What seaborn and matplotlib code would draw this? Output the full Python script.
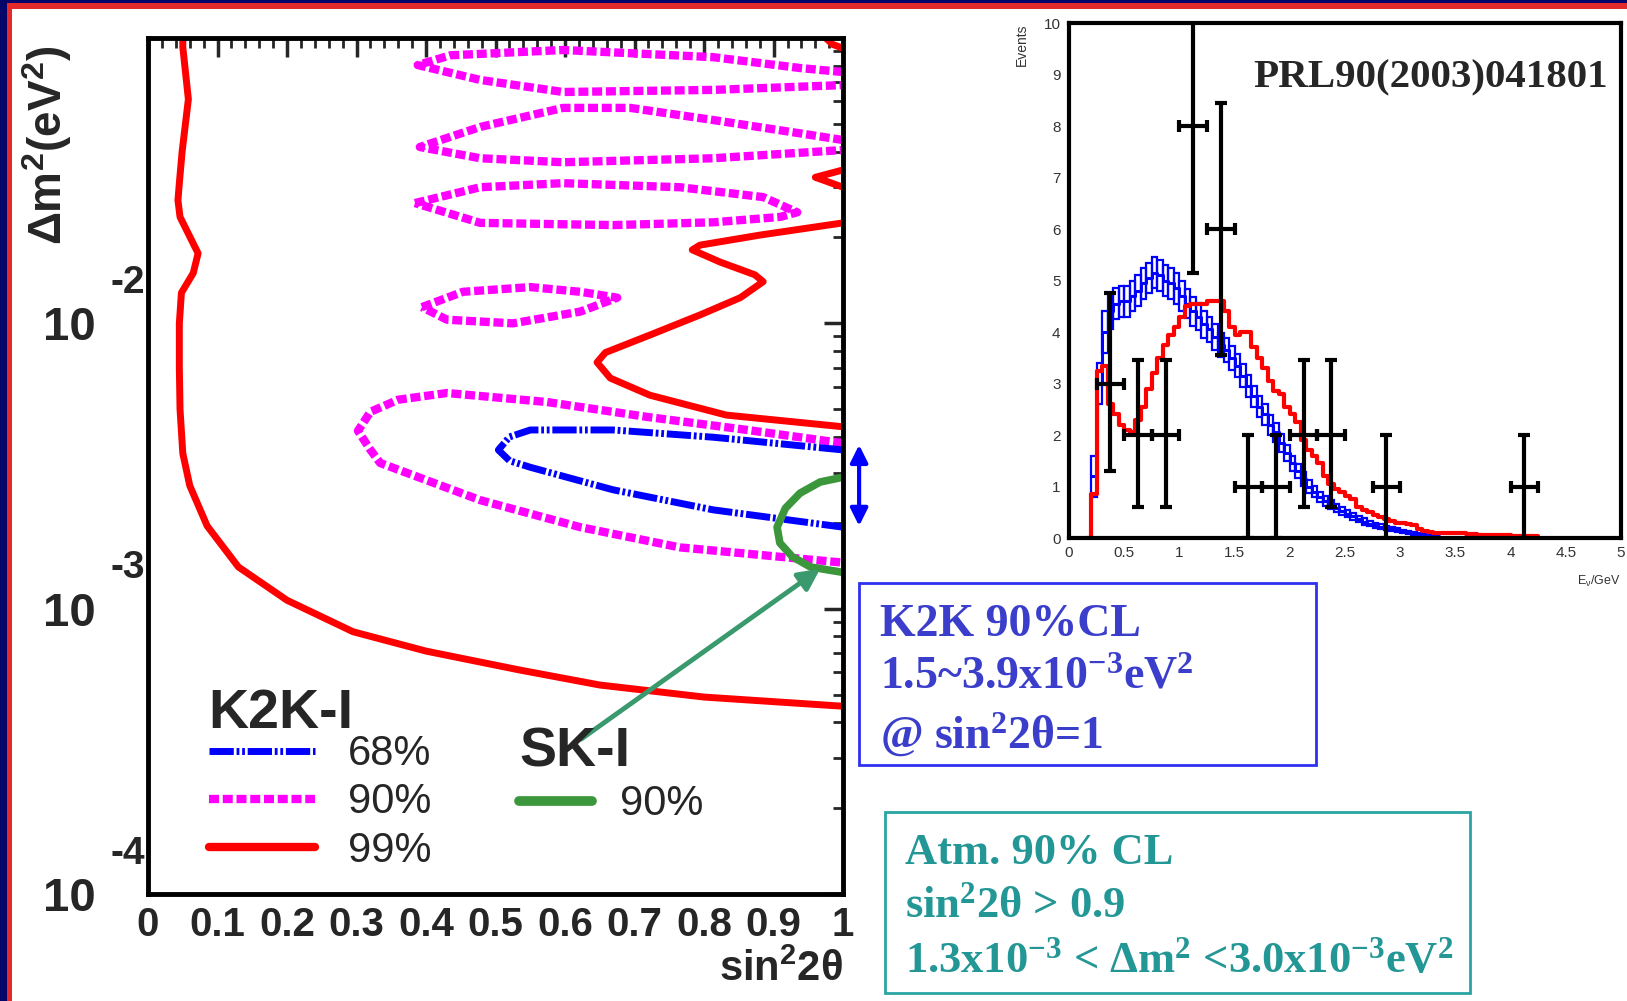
import numpy as np
import pandas as pd
import matplotlib
matplotlib.use("Agg")
import matplotlib.pyplot as plt
import seaborn as sns
from matplotlib import font_manager as fm
from matplotlib.lines import Line2D
from matplotlib.patches import Rectangle
from matplotlib.ticker import MultipleLocator, NullFormatter, LogLocator

# ---------------- data: allowed regions (sin^2 2theta, dm^2 [eV^2]) ----------------
red_outer_x = [0.050, 0.050, 0.058, 0.049, 0.045, 0.043, 0.046, 0.072, 0.065, 0.048, 0.045, 0.045,
               0.046, 0.050, 0.060, 0.085, 0.13, 0.20, 0.295, 0.40, 0.534, 0.65, 0.80, 1.0]
red_outer_y = [1.0e-1, 9.3e-2, 6.1e-2, 4.0e-2, 3.1e-2, 2.7e-2, 2.36e-2, 1.76e-2, 1.5e-2, 1.28e-2, 1.0e-2, 7.0e-3,
               5.0e-3, 3.5e-3, 2.7e-3, 1.95e-3, 1.4e-3, 1.07e-3, 8.3e-4, 7.1e-4, 6.1e-4, 5.4e-4, 4.9e-4, 4.55e-4]
red_inner_x = [1.0, 0.832, 0.722, 0.665, 0.646, 0.658, 0.722, 0.794, 0.852, 0.885, 0.873, 0.823, 0.783, 0.794, 0.881, 1.0]
red_inner_y = [4.34e-3, 4.77e-3, 5.6e-3, 6.43e-3, 7.3e-3, 7.9e-3, 9.1e-3, 1.07e-2, 1.23e-2, 1.40e-2, 1.48e-2,
               1.64e-2, 1.81e-2, 1.88e-2, 2.04e-2, 2.25e-2]
red_wedge_x = [1.0, 0.96, 1.0]
red_wedge_y = [3.45e-2, 3.25e-2, 3.0e-2]
red_top_x = [0.975, 0.985, 1.0]
red_top_y = [1.0e-1, 9.5e-2, 9.2e-2]

mag_a_x = [1.0, 0.938, 0.813, 0.597, 0.435, 0.388, 0.478, 0.597, 0.813, 1.0]
mag_a_y = [7.6e-2, 7.85e-2, 8.57e-2, 9.08e-2, 8.7e-2, 8.04e-2, 7.13e-2, 6.47e-2, 6.58e-2, 6.84e-2]
mag_b_x = [1.0, 0.934, 0.813, 0.694, 0.597, 0.478, 0.391, 0.478, 0.597, 0.813, 1.0]
mag_b_y = [4.39e-2, 4.65e-2, 5.16e-2, 5.69e-2, 5.69e-2, 4.88e-2, 4.15e-2, 3.79e-2, 3.67e-2, 3.79e-2, 4.05e-2]
mag_c_x = [0.384, 0.478, 0.597, 0.765, 0.885, 0.934, 0.909, 0.813, 0.669, 0.478, 0.384]
mag_c_y = [2.64e-2, 3.0e-2, 3.1e-2, 3.0e-2, 2.77e-2, 2.45e-2, 2.36e-2, 2.26e-2, 2.21e-2, 2.25e-2, 2.64e-2]
mag_d_x = [0.394, 0.453, 0.550, 0.622, 0.675, 0.622, 0.525, 0.430, 0.394]
mag_d_y = [1.14e-2, 1.29e-2, 1.34e-2, 1.29e-2, 1.23e-2, 1.10e-2, 1.0e-2, 1.03e-2, 1.14e-2]
mag_e_x = [1.0, 0.862, 0.718, 0.574, 0.43, 0.36, 0.32, 0.302, 0.32, 0.334, 0.478, 0.622, 0.765, 0.909, 1.0]
mag_e_y = [3.8e-3, 4.23e-3, 4.7e-3, 5.3e-3, 5.7e-3, 5.4e-3, 4.9e-3, 4.2e-3, 3.6e-3, 3.24e-3, 2.4e-3,
           1.93e-3, 1.64e-3, 1.52e-3, 1.45e-3]

blue_x = [1.0, 0.813, 0.669, 0.550, 0.52, 0.504, 0.52, 0.550, 0.669, 0.813, 1.0]
blue_y = [3.6e-3, 3.99e-3, 4.23e-3, 4.23e-3, 4.0e-3, 3.6e-3, 3.3e-3, 3.13e-3, 2.61e-3, 2.22e-3, 1.93e-3]

sk_x = [1.0, 0.967, 0.938, 0.917, 0.905, 0.909, 0.927, 0.953, 1.0]
sk_y = [2.89e-3, 2.78e-3, 2.54e-3, 2.25e-3, 1.93e-3, 1.70e-3, 1.52e-3, 1.40e-3, 1.34e-3]

sk_arrow_from = (0.623, 3.49e-4)
sk_arrow_to = (0.967, 1.38e-3)
k2k_range = (3.75e-3, 1.95e-3)

x_ticks = [0, 0.1, 0.2, 0.3, 0.4, 0.5, 0.6, 0.7, 0.8, 0.9, 1.0]
x_ticklabels = ["0", "0.1", "0.2", "0.3", "0.4", "0.5", "0.6", "0.7", "0.8", "0.9", "1"]
y_ticks = [1e-4, 1e-3, 1e-2]
y_exponents = ["-4", "-3", "-2"]

# ---------------- data: energy spectrum ----------------
blue_vals = [1.2, 3.0, 4.0, 4.4, 4.55, 4.6, 4.6, 4.7, 4.8, 4.95, 5.05, 5.15, 5.1, 5.0, 4.95, 4.85,
             4.7, 4.55, 4.4, 4.3, 4.15, 4.05, 3.9, 3.75, 3.65, 3.5, 3.35, 3.15, 2.95, 2.75, 2.55, 2.4,
             2.2, 2.05, 1.85, 1.65, 1.45, 1.3, 1.15, 1.0, 0.9, 0.8, 0.72, 0.65, 0.58, 0.52, 0.47, 0.42,
             0.37, 0.32, 0.28, 0.25, 0.22, 0.19, 0.17, 0.15, 0.13, 0.11, 0.09, 0.07, 0.05, 0.04, 0.03]
blue_err = [0.4, 0.4, 0.4, 0.35, 0.3, 0.3, 0.3, 0.3, 0.3, 0.3, 0.3, 0.3, 0.3, 0.3, 0.3, 0.3,
            0.3, 0.28, 0.28, 0.27, 0.26, 0.25, 0.25, 0.24, 0.24, 0.23, 0.23, 0.22, 0.22, 0.21, 0.2, 0.2,
            0.19, 0.18, 0.17, 0.16, 0.15, 0.14, 0.13, 0.12, 0.11, 0.1, 0.09, 0.09, 0.08, 0.08, 0.07, 0.07,
            0.06, 0.06, 0.05, 0.05, 0.05, 0.04, 0.04, 0.04, 0.03, 0.03, 0.03, 0.02, 0.02, 0.02, 0.02]
red_vals = [0.0, 0.85, 3.25, 3.35, 2.6, 2.4, 2.2, 2.1, 2.05, 2.3, 2.55, 2.9, 3.2, 3.5, 3.75, 3.95, 4.1,
            4.3, 4.5, 4.55, 4.55, 4.55, 4.6, 4.6, 4.6, 4.4, 4.1, 3.95, 4.0, 4.0, 3.7, 3.5, 3.3,
            3.05, 2.85, 2.8, 2.55, 2.4, 2.25, 1.9, 1.7, 1.6, 1.45, 1.2, 1.05, 0.95, 0.9, 0.82, 0.75,
            0.6, 0.55, 0.5, 0.45, 0.4, 0.36, 0.34, 0.3, 0.29, 0.28, 0.26, 0.18, 0.14, 0.11, 0.1, 0.1,
            0.1, 0.1, 0.09, 0.09, 0.08, 0.07, 0.06, 0.06, 0.06, 0.05, 0.05, 0.05, 0.03, 0.03, 0.03, 0.03, 0.03]
bin_width = 0.05
blue_start = 0.2
red_start = 0.15

data_x = [0.375, 0.625, 0.875, 1.125, 1.375, 1.625, 1.875, 2.125, 2.375, 2.875, 4.125]
data_y = [3, 2, 2, 8, 6, 1, 1, 2, 2, 1, 1]
data_ylo = [1.7, 1.4, 1.4, 2.85, 2.45, 1.0, 1.0, 1.4, 1.4, 1.0, 1.0]
data_yhi = [1.75, 1.45, 1.45, 3.0, 2.45, 1.0, 1.0, 1.45, 1.45, 1.0, 1.0]
data_xerr = 0.125

hx_ticks = [0, 0.5, 1, 1.5, 2, 2.5, 3, 3.5, 4, 4.5, 5]
hx_ticklabels = ["0", "0.5", "1", "1.5", "2", "2.5", "3", "3.5", "4", "4.5", "5"]
hy_ticks = list(range(0, 11))

# ---------------- style ----------------
sns.set_style("white")
plt.rcParams["font.family"] = ["Liberation Sans", "DejaVu Sans"]
plt.rcParams["mathtext.default"] = "regular"
_names = {f.name for f in fm.fontManager.ttflist}
if "Liberation Sans Narrow" in _names:
    NARROW = ["Liberation Sans Narrow", "DejaVu Sans"]
    XTICK_FS, XLAB_FS = 36, 34
else:
    NARROW = ["Liberation Sans", "DejaVu Sans"]
    XTICK_FS, XLAB_FS = 29, 30
SERIF = ["Liberation Serif", "DejaVu Serif"]

RED = "#ff0000"
MAG = "#ff00ff"
BLUE = "#0000ff"
GREEN = "#3c963c"
ARROW_GREEN = "#3a9a6e"
blue_ls = (0, (3.5, 0.4, 0.4, 0.4, 0.4, 0.4))
mag_ls = (0, (1.2, 0.45))

fig = plt.figure(figsize=(16.27, 10.01), dpi=100, facecolor="white")

# ---------------- left panel ----------------
ax = fig.add_axes([0.0910, 0.1069, 0.4272, 0.8551])
ax.set_yscale("log")
ax.set_xlim(0, 1)
ax.set_ylim(1e-4, 1e-1)


def contour(xs, ys, color, lw, ls="-"):
    sns.lineplot(x=xs, y=ys, sort=False, estimator=None, color=color, lw=lw,
                 linestyle=ls, ax=ax, legend=False)


contour(red_outer_x, red_outer_y, RED, 5)
contour(red_inner_x, red_inner_y, RED, 5)
contour(red_wedge_x, red_wedge_y, RED, 5)
contour(red_top_x, red_top_y, RED, 5)
for mx, my in [(mag_a_x, mag_a_y), (mag_b_x, mag_b_y), (mag_c_x, mag_c_y), (mag_d_x, mag_d_y), (mag_e_x, mag_e_y)]:
    contour(mx, my, MAG, 6, mag_ls)
contour(blue_x, blue_y, BLUE, 5, blue_ls)
contour(sk_x, sk_y, GREEN, 5.5)

ax.annotate("", xy=sk_arrow_to, xytext=sk_arrow_from,
            arrowprops=dict(arrowstyle="-|>", color=ARROW_GREEN, lw=3.5, mutation_scale=32,
                            shrinkA=0, shrinkB=0))
ax.annotate("", xy=(1.023, k2k_range[0]), xytext=(1.023, k2k_range[1]),
            xycoords=("axes fraction", "data"), textcoords=("axes fraction", "data"),
            arrowprops=dict(arrowstyle="<|-|>", color=BLUE, lw=3, mutation_scale=26, shrinkA=0, shrinkB=0),
            annotation_clip=False)

for sp in ax.spines.values():
    sp.set_linewidth(3.5)
    sp.set_color("black")
ax.set_xticks(x_ticks, labels=x_ticklabels)
ax.xaxis.set_minor_locator(MultipleLocator(0.02))
ax.set_yticks(y_ticks, labels=["10"] * len(y_ticks))
ax.yaxis.set_minor_locator(LogLocator(base=10, subs=np.arange(2, 10)))
ax.yaxis.set_minor_formatter(NullFormatter())
ax.tick_params(which="major", direction="in", length=14, width=2.5, top=True, right=True)
ax.tick_params(which="minor", direction="in", length=7, width=2, top=True, right=True)
ax.tick_params(axis="x", labelsize=XTICK_FS, pad=9)
ax.tick_params(axis="y", labelsize=34, pad=38)
for lab in ax.get_xticklabels() + ax.get_yticklabels():
    lab.set_fontfamily(NARROW)
    lab.set_fontweight("bold")
for val, ex in zip(y_ticks, y_exponents):
    ax.annotate(ex, xy=(0, val), xycoords=("axes fraction", "data"), xytext=(-2, 29),
                textcoords="offset points", ha="right", va="center", fontsize=28,
                fontfamily=NARROW, fontweight="bold", annotation_clip=False)
ax.set_xlabel("sin$^{2}$2θ", loc="right", fontsize=XLAB_FS, fontfamily=NARROW, fontweight="bold", labelpad=4)
ax.set_ylabel("")
fig.text(47 / 1627, 1 - 145 / 1001, "Δm$^{2}$(eV$^{2}$)", rotation=90, ha="center", va="center",
         fontsize=33, fontweight="bold", family=["Liberation Sans", "DejaVu Sans"])

h1 = [Line2D([], [], color=BLUE, lw=5, linestyle=blue_ls),
      Line2D([], [], color=MAG, lw=6, linestyle=mag_ls),
      Line2D([], [], color=RED, lw=6)]
leg1 = ax.legend(h1, ["68%", "90%", "99%"], loc="upper left", bbox_to_anchor=(0.087, 0.241),
                 frameon=False, borderpad=0, borderaxespad=0,
                 prop={"family": "Liberation Sans", "size": 30},
                 title="K2K-I", title_fontproperties={"family": "Liberation Sans", "weight": "bold", "size": 40},
                 alignment="left", handlelength=2.55, handletextpad=0.8, labelspacing=0.2)
leg1._legend_box.sep = -4
ax.add_artist(leg1)
leg2 = ax.legend([Line2D([], [], color=GREEN, lw=7)], ["90%"], loc="upper left", bbox_to_anchor=(0.534, 0.196),
                 frameon=False, borderpad=0, borderaxespad=0,
                 prop={"family": "Liberation Sans", "size": 30},
                 title="SK-I", title_fontproperties={"family": "Liberation Sans", "weight": "bold", "size": 40},
                 alignment="left", handlelength=1.75, handletextpad=0.67)
leg2._legend_box.sep = 4.5

# ---------------- right panel ----------------
ax2 = fig.add_axes([0.657, 0.4625, 0.3393, 0.5145])
edges_b = [round(blue_start + bin_width * i, 3) for i in range(len(blue_vals) + 1)]
edges_r = [round(red_start + bin_width * i, 3) for i in range(len(red_vals) + 1)]
df_b = pd.DataFrame({"E": [(a + b) / 2 for a, b in zip(edges_b[:-1], edges_b[1:])], "w": blue_vals})
df_r = pd.DataFrame({"E": [(a + b) / 2 for a, b in zip(edges_r[:-1], edges_r[1:])], "w": red_vals})
bv = np.array(blue_vals)
be = np.array(blue_err)
ax2.bar(df_b["E"], 2 * be, bottom=bv - be, width=bin_width, fill=False, edgecolor=BLUE, lw=1.6)
sns.histplot(data=df_b, x="E", weights="w", bins=edges_b, element="step", fill=False,
             color=BLUE, lw=2.2, ax=ax2)
sns.histplot(data=df_r, x="E", weights="w", bins=edges_r, element="step", fill=False,
             color=RED, lw=3, ax=ax2)
ax2.errorbar(data_x, data_y, yerr=[data_ylo, data_yhi], xerr=data_xerr, fmt="none",
             ecolor="black", elinewidth=3, capsize=4, capthick=3, zorder=5)
ax2.set_xlim(0, 5)
ax2.set_ylim(0, 10)
ax2.set_xlabel("")
ax2.set_ylabel("")
ax2.set_xticks(hx_ticks, labels=hx_ticklabels)
ax2.set_yticks(hy_ticks)
ax2.xaxis.set_minor_locator(MultipleLocator(0.1))
ax2.yaxis.set_minor_locator(MultipleLocator(0.2))
ax2.tick_params(which="major", direction="in", length=8, width=2, labelsize=11, labelcolor="#333333", pad=6)
ax2.tick_params(which="minor", direction="in", length=4, width=1.5)
for sp in ax2.spines.values():
    sp.set_linewidth(3)
    sp.set_color("black")
ax2.text(0.333, 0.893, "PRL90(2003)041801", transform=ax2.transAxes, ha="left", va="center",
         fontsize=29.5, fontweight="bold", family=SERIF)
ax2.text(1.0, -0.085, "E$_{\\nu}$/GeV", transform=ax2.transAxes, ha="right", va="center",
         fontsize=9, color="#333333", clip_on=False)
fig.text(1022 / 1627, 1 - 23 / 1001, "Events", rotation=90, ha="center", va="top", fontsize=10, color="#333333")

# ---------------- text boxes ----------------
K2K_C = "#3a3ecb"
ATM_C = "#239696"
fig.add_artist(Rectangle((0.528, 0.2358), 0.2809, 0.1818, transform=fig.transFigure, fill=False,
                         edgecolor="#3030f0", lw=2))
for yy, s in zip([0.376, 0.323, 0.267], ["K2K 90%CL", "1.5~3.9x10$^{-3}$eV$^{2}$", "@ sin$^{2}$2θ=1"]):
    fig.text(0.541, yy, s, ha="left", va="center", fontsize=33, fontweight="bold", family=SERIF, color=K2K_C)
fig.add_artist(Rectangle((0.544, 0.008), 0.3596, 0.1808, transform=fig.transFigure, fill=False,
                         edgecolor="#2aa5a5", lw=2))
for yy, s in zip([0.148, 0.095, 0.040], ["Atm. 90% CL", "sin$^{2}$2θ > 0.9",
                                          "1.3x10$^{-3}$ < Δm$^{2}$ <3.0x10$^{-3}$eV$^{2}$"]):
    fig.text(0.556, yy, s, ha="left", va="center", fontsize=32, fontweight="bold", family=SERIF, color=ATM_C)

# ---------------- slide frame ----------------
NAVY = "#06066a"
FRED = "#e52a2a"
fig.add_artist(Rectangle((0, 0), 7 / 1627, 1, transform=fig.transFigure, facecolor=NAVY, edgecolor="none", zorder=20))
fig.add_artist(Rectangle((7 / 1627, 0), 5 / 1627, 1, transform=fig.transFigure, facecolor=FRED, edgecolor="none", zorder=20))
fig.add_artist(Rectangle((0, 1 - 3 / 1001), 1, 3 / 1001, transform=fig.transFigure, facecolor=NAVY, edgecolor="none", zorder=20))
fig.add_artist(Rectangle((7 / 1627, 1 - 9 / 1001), 1, 6 / 1001, transform=fig.transFigure, facecolor=FRED, edgecolor="none", zorder=20))

fig.savefig("out.png", dpi=100, facecolor="white")
